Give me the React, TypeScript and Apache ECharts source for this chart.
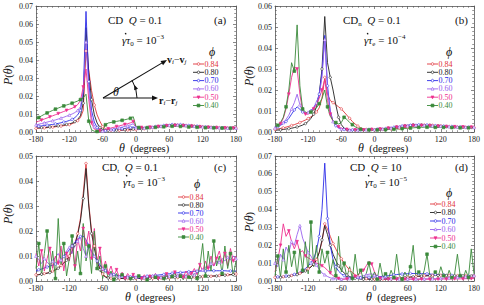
import React, { useEffect, useRef } from "react";
import * as echarts from "echarts";

const THETA = [-180,-175,-170,-165,-160,-155,-150,-145,-140,-135,-130,-125,-120,-115,-110,-105,-100,-95,-90,-85,-80,-75,-70,-65,-60,-55,-50,-45,-40,-35,-30,-25,-20,-15,-10,-5,0,5,10,15,20,25,30,35,40,45,50,55,60,65,70,75,80,85,90,95,100,105,110,115,120,125,130,135,140,145,150,155,160,165,170,175,180];

const PHI = ["0.84", "0.80", "0.70", "0.60", "0.50", "0.40"];
const COLORS = ["#e0343a", "#222222", "#2b2be8", "#9a62ee", "#ee2f8e", "#3a8a3a"];
const SYMBOLS = ["circle", "circle", "circle", "triangle", "triangle", "rect"];
const FILLED = [false, false, false, false, true, true];
const X_TICKS = [-180, 180, 60];
const Y_MAX = [0.07, 0.06, 0.05, 0.07];

// Panel (a): CD, Q = 0.1
const A84 = [.0020,.0021,.0022,.0023,.0024,.0026,.0027,.0029,.0031,.0033,.0035,.0038,.0041,.0046,.0053,.0063,.0080,.0120,.0450,.0340,.0230,.0150,.0095,.0060,.0030,.0018,.0012,.0010,.0009,.0009,.0009,.0010,.0010,.0011,.0012,.0013,.0013,.0015,.0016,.0018,.0020,.0022,.0024,.0026,.0028,.0030,.0032,.0034,.0035,.0036,.0037,.0038,.0038,.0037,.0036,.0035,.0034,.0033,.0031,.0030,.0029,.0028,.0027,.0026,.0025,.0025,.0024,.0024,.0023,.0023,.0022,.0022,.0022];
const A80 = [.0022,.0023,.0024,.0025,.0026,.0028,.0030,.0032,.0034,.0036,.0039,.0042,.0045,.0050,.0058,.0070,.0090,.0160,.0580,.0330,.0180,.0095,.0050,.0025,.0014,.0010,.0009,.0009,.0010,.0010,.0011,.0012,.0013,.0014,.0015,.0016,.0015,.0016,.0018,.0020,.0022,.0024,.0026,.0028,.0030,.0032,.0034,.0036,.0037,.0038,.0039,.0040,.0039,.0038,.0037,.0036,.0035,.0033,.0032,.0030,.0029,.0028,.0027,.0026,.0025,.0025,.0024,.0024,.0023,.0023,.0022,.0022,.0022];
const A70 = [.0030,.0032,.0034,.0036,.0038,.0040,.0042,.0045,.0048,.0051,.0055,.0059,.0064,.0070,.0080,.0095,.0120,.0220,.0670,.0280,.0120,.0055,.0025,.0012,.0008,.0007,.0008,.0010,.0012,.0014,.0016,.0018,.0020,.0022,.0025,.0028,.0020,.0020,.0021,.0022,.0024,.0026,.0028,.0030,.0032,.0034,.0036,.0038,.0040,.0041,.0042,.0042,.0041,.0040,.0038,.0036,.0035,.0033,.0032,.0030,.0029,.0028,.0027,.0026,.0025,.0024,.0024,.0023,.0023,.0022,.0022,.0022,.0022];
const A60 = [.0040,.0043,.0047,.0051,.0055,.0059,.0063,.0067,.0072,.0077,.0082,.0088,.0094,.0100,.0108,.0120,.0140,.0230,.0500,.0230,.0080,.0030,.0012,.0007,.0006,.0008,.0011,.0014,.0017,.0020,.0024,.0027,.0031,.0035,.0040,.0046,.0025,.0022,.0022,.0023,.0024,.0025,.0027,.0029,.0031,.0033,.0035,.0036,.0038,.0039,.0040,.0040,.0039,.0038,.0037,.0035,.0034,.0032,.0031,.0030,.0029,.0028,.0027,.0026,.0025,.0024,.0024,.0023,.0023,.0022,.0022,.0022,.0022];
const A50 = [.0055,.0060,.0066,.0072,.0078,.0084,.0090,.0096,.0102,.0108,.0114,.0120,.0126,.0132,.0140,.0152,.0175,.0250,.0350,.0180,.0050,.0016,.0008,.0007,.0009,.0013,.0018,.0022,.0026,.0030,.0034,.0038,.0042,.0046,.0051,.0058,.0030,.0026,.0025,.0025,.0026,.0027,.0028,.0030,.0031,.0033,.0034,.0035,.0036,.0037,.0037,.0037,.0036,.0035,.0034,.0033,.0032,.0031,.0030,.0029,.0028,.0027,.0026,.0025,.0025,.0024,.0024,.0023,.0023,.0022,.0022,.0022,.0022];
const A40 = [.0070,.0080,.0090,.0098,.0106,.0113,.0120,.0127,.0133,.0139,.0145,.0150,.0155,.0160,.0166,.0172,.0180,.0190,.0210,.0060,.0012,.0004,.0003,.0004,.0010,.0040,.0050,.0053,.0056,.0059,.0062,.0065,.0068,.0072,.0076,.0085,.0030,.0025,.0023,.0023,.0024,.0024,.0025,.0026,.0027,.0028,.0029,.0030,.0031,.0032,.0032,.0032,.0031,.0030,.0029,.0028,.0027,.0026,.0026,.0025,.0025,.0024,.0024,.0023,.0023,.0022,.0022,.0022,.0021,.0021,.0021,.0020,.0020];

// Panel (b): CDn, Q = 0.1
const B84 = [.0012,.0014,.0017,.0020,.0023,.0027,.0031,.0035,.0040,.0045,.0051,.0057,.0064,.0072,.0082,.0095,.0115,.0160,.0260,.0180,.0150,.0140,.0130,.0120,.0110,.0095,.0080,.0065,.0050,.0038,.0028,.0020,.0015,.0012,.0010,.0010,.0010,.0010,.0011,.0012,.0013,.0014,.0015,.0016,.0018,.0019,.0020,.0022,.0024,.0026,.0028,.0030,.0031,.0032,.0033,.0033,.0033,.0032,.0031,.0030,.0029,.0028,.0027,.0026,.0025,.0024,.0024,.0023,.0023,.0022,.0022,.0022,.0022];
const B80 = [.0008,.0009,.0010,.0012,.0014,.0016,.0018,.0021,.0024,.0028,.0033,.0040,.0050,.0065,.0085,.0120,.0180,.0300,.0550,.0330,.0260,.0200,.0130,.0070,.0035,.0018,.0012,.0010,.0009,.0009,.0009,.0010,.0010,.0011,.0011,.0012,.0012,.0013,.0014,.0015,.0017,.0018,.0020,.0022,.0024,.0026,.0028,.0030,.0032,.0033,.0034,.0035,.0035,.0034,.0033,.0033,.0032,.0031,.0030,.0029,.0028,.0027,.0026,.0025,.0025,.0024,.0024,.0023,.0023,.0022,.0022,.0022,.0022];
const B70 = [.0020,.0025,.0032,.0040,.0050,.0065,.0085,.0105,.0120,.0108,.0095,.0090,.0092,.0100,.0115,.0140,.0180,.0280,.0460,.0220,.0100,.0050,.0030,.0020,.0015,.0012,.0010,.0010,.0010,.0010,.0010,.0010,.0011,.0011,.0012,.0012,.0012,.0013,.0014,.0015,.0016,.0018,.0020,.0022,.0024,.0026,.0028,.0030,.0031,.0032,.0033,.0034,.0034,.0034,.0033,.0033,.0032,.0031,.0030,.0030,.0029,.0028,.0027,.0026,.0026,.0025,.0025,.0024,.0024,.0023,.0023,.0023,.0023];
const B60 = [.0020,.0026,.0034,.0045,.0060,.0080,.0110,.0140,.0180,.0130,.0100,.0092,.0094,.0102,.0118,.0140,.0175,.0260,.0440,.0200,.0095,.0050,.0030,.0020,.0015,.0012,.0010,.0010,.0010,.0010,.0010,.0010,.0010,.0011,.0011,.0012,.0012,.0013,.0014,.0015,.0016,.0018,.0020,.0022,.0024,.0026,.0028,.0029,.0030,.0031,.0032,.0033,.0033,.0033,.0032,.0032,.0031,.0030,.0030,.0029,.0028,.0027,.0027,.0026,.0025,.0025,.0024,.0024,.0023,.0023,.0023,.0022,.0022];
const B50 = [.0020,.0028,.0040,.0065,.0110,.0180,.0260,.0310,.0300,.0180,.0100,.0085,.0085,.0095,.0110,.0130,.0160,.0200,.0250,.0150,.0085,.0050,.0035,.0025,.0018,.0014,.0012,.0011,.0011,.0010,.0010,.0010,.0010,.0011,.0011,.0012,.0012,.0013,.0014,.0015,.0016,.0018,.0019,.0021,.0023,.0025,.0026,.0028,.0029,.0030,.0031,.0032,.0032,.0031,.0031,.0030,.0030,.0029,.0028,.0028,.0027,.0027,.0026,.0026,.0025,.0025,.0024,.0024,.0024,.0023,.0023,.0023,.0023];
const B40 = [.0025,.0032,.0045,.0070,.0120,.0200,.0330,.0290,.0510,.0220,.0110,.0095,.0090,.0095,.0105,.0115,.0135,.0160,.0200,.0120,.0075,.0055,.0045,.0038,.0045,.0070,.0060,.0045,.0035,.0025,.0018,.0013,.0011,.0010,.0010,.0010,.0010,.0010,.0010,.0011,.0011,.0012,.0012,.0013,.0014,.0015,.0016,.0017,.0018,.0019,.0020,.0021,.0022,.0022,.0023,.0023,.0023,.0023,.0022,.0022,.0022,.0022,.0021,.0021,.0021,.0021,.0021,.0020,.0020,.0020,.0020,.0020,.0020];

// Panel (c): CDt, Q = 0.1
const C84 = [.0025,.0026,.0028,.0030,.0032,.0035,.0040,.0046,.0053,.0062,.0073,.0085,.0100,.0120,.0150,.0190,.0250,.0350,.0470,.0310,.0200,.0140,.0090,.0050,.0028,.0018,.0013,.0011,.0010,.0010,.0010,.0010,.0010,.0010,.0010,.0010,.0010,.0010,.0010,.0010,.0011,.0011,.0011,.0012,.0012,.0012,.0013,.0013,.0013,.0014,.0014,.0014,.0015,.0015,.0015,.0016,.0016,.0016,.0017,.0017,.0018,.0018,.0019,.0019,.0020,.0021,.0022,.0023,.0024,.0025,.0026,.0027,.0028];
const C80 = [.0024,.0025,.0027,.0029,.0031,.0034,.0038,.0044,.0051,.0060,.0071,.0083,.0098,.0118,.0145,.0185,.0240,.0330,.0450,.0300,.0190,.0130,.0080,.0045,.0025,.0016,.0012,.0010,.0010,.0010,.0010,.0010,.0010,.0010,.0010,.0010,.0010,.0010,.0010,.0010,.0010,.0011,.0011,.0011,.0012,.0012,.0012,.0013,.0013,.0013,.0014,.0014,.0014,.0015,.0015,.0015,.0016,.0016,.0016,.0017,.0017,.0018,.0018,.0019,.0020,.0020,.0021,.0022,.0023,.0024,.0025,.0026,.0027];
const C70 = [.0040,.0045,.0048,.0052,.0056,.0060,.0063,.0068,.0075,.0085,.0098,.0110,.0125,.0140,.0155,.0168,.0178,.0180,.0165,.0140,.0118,.0098,.0080,.0065,.0052,.0042,.0035,.0030,.0026,.0023,.0021,.0019,.0018,.0017,.0017,.0017,.0017,.0017,.0018,.0018,.0019,.0020,.0021,.0022,.0024,.0025,.0026,.0028,.0029,.0031,.0032,.0033,.0034,.0035,.0036,.0037,.0038,.0039,.0039,.0040,.0040,.0040,.0041,.0041,.0041,.0041,.0041,.0041,.0041,.0040,.0040,.0040,.0040];
const C60 = [.0100,.0085,.0070,.0090,.0075,.0065,.0080,.0095,.0110,.0085,.0100,.0120,.0135,.0110,.0145,.0160,.0175,.0130,.0100,.0150,.0120,.0100,.0085,.0060,.0050,.0035,.0030,.0025,.0022,.0020,.0018,.0020,.0015,.0017,.0014,.0015,.0016,.0012,.0018,.0014,.0020,.0015,.0022,.0018,.0020,.0016,.0022,.0018,.0020,.0025,.0018,.0022,.0030,.0025,.0020,.0028,.0030,.0025,.0035,.0040,.0045,.0055,.0050,.0070,.0060,.0080,.0075,.0090,.0080,.0095,.0085,.0100,.0090];
const C50 = [.0110,.0060,.0120,.0040,.0090,.0130,.0050,.0100,.0070,.0140,.0040,.0110,.0080,.0150,.0060,.0170,.0120,.0210,.0140,.0200,.0090,.0210,.0070,.0130,.0040,.0080,.0030,.0060,.0020,.0045,.0015,.0035,.0010,.0030,.0012,.0025,.0008,.0020,.0010,.0025,.0008,.0018,.0012,.0030,.0010,.0020,.0015,.0028,.0010,.0022,.0035,.0012,.0030,.0015,.0040,.0020,.0030,.0050,.0025,.0065,.0040,.0080,.0050,.0100,.0060,.0090,.0120,.0070,.0110,.0060,.0130,.0080,.0100];
const C40 = [.0050,.0150,.0020,.0110,.0200,.0030,.0120,.0010,.0250,.0060,.0150,.0020,.0090,.0180,.0040,.0120,.0030,.0230,.0080,.0140,.0030,.0200,.0050,.0100,.0010,.0060,.0010,.0040,.0005,.0030,.0008,.0025,.0005,.0020,.0010,.0015,.0005,.0020,.0008,.0015,.0005,.0025,.0010,.0015,.0005,.0020,.0010,.0025,.0008,.0018,.0030,.0010,.0020,.0005,.0025,.0015,.0008,.0030,.0010,.0060,.0150,.0020,.0120,.0040,.0160,.0060,.0100,.0030,.0140,.0050,.0110,.0020,.0080];

// Panel (d): CD, Q = 10
const D84 = [.0020,.0021,.0022,.0024,.0026,.0028,.0031,.0034,.0038,.0043,.0050,.0058,.0068,.0080,.0095,.0120,.0160,.0220,.0320,.0290,.0250,.0210,.0180,.0150,.0125,.0100,.0080,.0062,.0047,.0035,.0026,.0020,.0016,.0013,.0012,.0011,.0010,.0010,.0010,.0011,.0011,.0012,.0013,.0014,.0015,.0016,.0017,.0019,.0020,.0022,.0024,.0025,.0027,.0028,.0029,.0030,.0031,.0031,.0032,.0032,.0032,.0032,.0032,.0031,.0031,.0031,.0030,.0030,.0030,.0029,.0029,.0029,.0028];
const D80 = [.0018,.0019,.0020,.0022,.0024,.0026,.0029,.0032,.0036,.0041,.0048,.0056,.0066,.0078,.0094,.0118,.0160,.0230,.0310,.0260,.0200,.0150,.0115,.0085,.0062,.0045,.0033,.0025,.0019,.0015,.0013,.0011,.0010,.0010,.0010,.0010,.0010,.0010,.0010,.0011,.0011,.0012,.0013,.0014,.0015,.0016,.0017,.0019,.0020,.0022,.0023,.0025,.0026,.0027,.0028,.0029,.0030,.0030,.0031,.0031,.0031,.0031,.0031,.0030,.0030,.0030,.0029,.0029,.0029,.0028,.0028,.0028,.0027];
const D70 = [.0022,.0023,.0024,.0026,.0028,.0030,.0033,.0037,.0042,.0049,.0058,.0070,.0085,.0100,.0125,.0170,.0250,.0400,.0660,.0350,.0200,.0120,.0080,.0055,.0040,.0030,.0024,.0020,.0018,.0017,.0017,.0018,.0019,.0020,.0021,.0022,.0023,.0024,.0025,.0026,.0028,.0030,.0032,.0034,.0036,.0038,.0039,.0040,.0041,.0042,.0042,.0042,.0042,.0041,.0041,.0040,.0039,.0038,.0037,.0036,.0035,.0034,.0033,.0032,.0031,.0030,.0029,.0028,.0027,.0026,.0025,.0025,.0024];
const D60 = [.0100,.0080,.0150,.0120,.0190,.0160,.0220,.0200,.0260,.0310,.0240,.0200,.0160,.0140,.0110,.0090,.0065,.0045,.0035,.0025,.0018,.0014,.0012,.0010,.0010,.0011,.0012,.0014,.0016,.0019,.0022,.0026,.0030,.0034,.0038,.0040,.0032,.0026,.0022,.0019,.0017,.0015,.0014,.0013,.0012,.0012,.0012,.0011,.0011,.0011,.0011,.0011,.0011,.0011,.0012,.0012,.0012,.0013,.0013,.0014,.0015,.0016,.0017,.0018,.0019,.0020,.0021,.0022,.0023,.0024,.0025,.0028,.0030];
const D50 = [.0050,.0120,.0200,.0320,.0250,.0280,.0220,.0180,.0220,.0160,.0170,.0140,.0130,.0120,.0110,.0100,.0095,.0085,.0075,.0060,.0045,.0030,.0020,.0014,.0011,.0010,.0012,.0015,.0020,.0026,.0034,.0045,.0060,.0085,.0110,.0095,.0050,.0025,.0015,.0012,.0010,.0010,.0010,.0010,.0010,.0010,.0010,.0010,.0010,.0010,.0010,.0010,.0010,.0010,.0010,.0010,.0010,.0010,.0010,.0010,.0010,.0011,.0011,.0011,.0011,.0012,.0012,.0012,.0012,.0013,.0013,.0013,.0014];
const D40 = [.0030,.0140,.0020,.0180,.0050,.0200,.0080,.0160,.0030,.0180,.0060,.0220,.0040,.0330,.0080,.0200,.0050,.0180,.0100,.0160,.0040,.0120,.0030,.0250,.0050,.0100,.0020,.0080,.0015,.0150,.0030,.0060,.0010,.0040,.0100,.0020,.0050,.0010,.0100,.0020,.0040,.0010,.0060,.0020,.0150,.0030,.0010,.0050,.0020,.0080,.0200,.0020,.0050,.0010,.0060,.0150,.0030,.0010,.0050,.0020,.0080,.0030,.0010,.0060,.0020,.0040,.0150,.0030,.0010,.0060,.0020,.0180,.0040];

const PANEL_DATA = [
  [A84, A80, A70, A60, A50, A40],
  [B84, B80, B70, B60, B50, B40],
  [C84, C80, C70, C60, C50, C40],
  [D84, D80, D70, D60, D50, D40],
];

const SERIF = "'Liberation Serif', 'DejaVu Serif', serif";

const GRIDS = [
  { left: 36, top: 6, width: 200, height: 126 },
  { left: 275, top: 6, width: 199, height: 126 },
  { left: 36, top: 156, width: 200, height: 125 },
  { left: 275, top: 156, width: 199, height: 125 },
];

// legend layout: line start x, first row centre y, row step, phi symbol position
const LEGEND_POS = [
  { x: 193, y: 64, step: 8.3, phiX: 212, phiY: 52 },
  { x: 427, y: 64, step: 8.3, phiX: 449, phiY: 52 },
  { x: 178, y: 197, step: 8.0, phiX: 197, phiY: 184 },
  { x: 430, y: 204, step: 8.5, phiX: 449, phiY: 193 },
];

const RICH = {
  n: { fontFamily: SERIF, fontSize: 11, lineHeight: 14, fill: "#111" },
  i: { fontFamily: SERIF, fontSize: 11, lineHeight: 14, fontStyle: "italic", fill: "#111" },
  sub: { fontFamily: SERIF, fontSize: 7, lineHeight: 9, verticalAlign: "bottom", fill: "#111" },
  sup: { fontFamily: SERIF, fontSize: 7, lineHeight: 9, verticalAlign: "top", fill: "#111" },
  b: { fontFamily: SERIF, fontSize: 10, lineHeight: 13, fontWeight: "bold", fill: "#111" },
  bs: { fontFamily: SERIF, fontSize: 7, lineHeight: 8, verticalAlign: "bottom", fontStyle: "italic", fill: "#111" },
  m: { fontFamily: SERIF, fontSize: 10, lineHeight: 13, fill: "#111" },
  ti: { fontFamily: SERIF, fontSize: 12, lineHeight: 11, fontStyle: "italic", fill: "#111" },
  tn: { fontFamily: SERIF, fontSize: 10.5, lineHeight: 11, fill: "#111" },
};

function txt(x: number, y: number, text: string, extra: any = {}) {
  return {
    type: "text",
    x,
    y,
    style: { text, rich: RICH, verticalAlign: "middle", fontFamily: SERIF, fontSize: 11, fill: "#111", ...extra },
  };
}

// "γ̇τ" label: gamma with a dot above, drawn as text plus a small dot
function gammaLabel(x: number, y: number, text: string) {
  return [
    txt(x, y, text),
    { type: "circle", shape: { cx: x + 3.6, cy: y - 6.3, r: 0.75 }, style: { fill: "#111" } },
  ];
}

function legendMarker(j: number, cx: number, cy: number) {
  const style = { fill: FILLED[j] ? COLORS[j] : "#fff", stroke: COLORS[j], lineWidth: 0.7 };
  if (SYMBOLS[j] === "circle") return { type: "circle", shape: { cx, cy, r: 1.3 }, style };
  if (SYMBOLS[j] === "rect") return { type: "rect", shape: { x: cx - 1.4, y: cy - 1.4, width: 2.8, height: 2.8 }, style };
  const d = j === 4 ? 1 : -1;
  return { type: "polygon", shape: { points: [[cx, cy + 1.6 * d], [cx - 1.5, cy - 1.2 * d], [cx + 1.5, cy - 1.2 * d]] }, style };
}

export default function App() {
  const ref = useRef<HTMLDivElement>(null);
  useEffect(() => {
    document.body.style.margin = "0";
    if (!ref.current) return;
    const chart = echarts.init(ref.current, undefined, { renderer: "svg" });

    const xAxis: any[] = [];
    const yAxis: any[] = [];
    const frameLine = { show: true, lineStyle: { color: "#555", width: 0.8 } };
    GRIDS.forEach((_, p) => {
      ["bottom", "top"].forEach((pos) => {
        xAxis.push({
          type: "value",
          gridIndex: p,
          position: pos,
          min: X_TICKS[0],
          max: X_TICKS[1],
          interval: X_TICKS[2],
          axisLine: { ...frameLine, onZero: false },
          axisTick: { show: true, inside: true, length: 3, lineStyle: { color: "#555", width: 0.7 } },
          minorTick: { show: true, splitNumber: 6, length: 1.8, lineStyle: { color: "#555", width: 0.6 } },
          splitLine: { show: false },
          axisLabel: {
            show: pos === "bottom",
            fontFamily: SERIF,
            fontSize: 8,
            color: "#222",
            margin: 3,
            formatter: (v: number) => String(v),
          },
        });
      });
      ["left", "right"].forEach((pos) => {
        yAxis.push({
          type: "value",
          gridIndex: p,
          position: pos,
          min: 0,
          max: Y_MAX[p],
          interval: 0.01,
          axisLine: { ...frameLine, onZero: false },
          axisTick: { show: true, inside: true, length: 3, lineStyle: { color: "#555", width: 0.7 } },
          minorTick: { show: true, splitNumber: 5, length: 1.8, lineStyle: { color: "#555", width: 0.6 } },
          splitLine: { show: false },
          axisLabel: {
            show: pos === "left",
            fontFamily: SERIF,
            fontSize: 8,
            color: "#222",
            margin: 3,
            formatter: (v: number) => v.toFixed(2),
          },
        });
      });
    });

    const series: any[] = [];
    // lines
    PANEL_DATA.forEach((sets, p) => {
      sets.forEach((vals, j) => {
        series.push({
          type: "line",
          name: PHI[j],
          xAxisIndex: p * 2,
          yAxisIndex: p * 2,
          data: THETA.map((t, i) => [t, vals[i]]),
          color: COLORS[j],
          lineStyle: { width: 0.9, color: COLORS[j] },
          symbol: "none",
          showSymbol: false,
          emphasis: { disabled: true },
          silent: true,
          z: 2,
        });
      });
    });
    // sparse markers on the same data points
    PANEL_DATA.forEach((sets, p) => {
      sets.forEach((vals, j) => {
        const pts: number[][] = [];
        THETA.forEach((t, i) => {
          if ((i + j) % 3 === 0) pts.push([t, vals[i]]);
        });
        series.push({
          type: "scatter",
          name: "m" + PHI[j],
          xAxisIndex: p * 2,
          yAxisIndex: p * 2,
          data: pts,
          symbol: SYMBOLS[j],
          symbolRotate: j === 4 ? 180 : 0,
          symbolSize: j >= 3 ? 2.8 : 2.5,
          itemStyle: {
            color: FILLED[j] ? COLORS[j] : "#ffffff",
            borderColor: COLORS[j],
            borderWidth: 0.6,
            opacity: 1,
          },
          emphasis: { disabled: true },
          silent: true,
          z: 3,
        });
      });
    });

    const graphic: any[] = [
      // panel titles
      txt(108, 20, "{n|CD}  {i|Q}{n| = 0.1}"),
      txt(214, 20, "{n|(a)}"),
      ...gammaLabel(122, 40, "{i|γτ}{sub|0}{n| = 10}{sup|−3}"),
      txt(343, 20, "{n|CD}{sub|n}  {i|Q}{n| = 0.1}"),
      txt(455, 20, "{n|(b)}"),
      ...gammaLabel(364, 40, "{i|γτ}{sub|e}{n| = 10}{sup|−4}"),
      txt(102, 167, "{n|CD}{sub|t}  {i|Q}{n| = 0.1}"),
      txt(214, 167, "{n|(c)}"),
      ...gammaLabel(123, 182, "{i|γτ}{sub|0}{n| = 10}{sup|−3}"),
      txt(350, 167, "{n|CD}  {i|Q}{n| = 10}"),
      txt(455, 167, "{n|(d)}"),
      ...gammaLabel(365, 182, "{i|γτ}{sub|0}{n| = 10}{sup|−5}"),
      // axis names
      txt(119, 148, "{ti|θ}{tn|  (degrees)}"),
      txt(358, 148, "{ti|θ}{tn|  (degrees)}"),
      txt(125, 297, "{ti|θ}{tn|  (degrees)}"),
      txt(366, 297, "{ti|θ}{tn|  (degrees)}"),
    ];
    [[8, 75], [249, 76], [8, 214], [249, 222]].forEach(([x, y]) => {
      graphic.push({
        type: "text",
        x,
        y,
        rotation: Math.PI / 2,
        style: {
          text: "{ti|P}{tn|(}{ti|θ}{tn|)}",
          rich: RICH,
          align: "center",
          verticalAlign: "middle",
        },
      });
    });
    // legends
    LEGEND_POS.forEach((l) => {
      graphic.push(txt(l.phiX, l.phiY, "{ti|ϕ}", { align: "center" }));
      PHI.forEach((name, j) => {
        const cy = l.y + j * l.step;
        graphic.push(
          { type: "line", shape: { x1: l.x, y1: cy, x2: l.x + 11, y2: cy }, style: { stroke: COLORS[j], lineWidth: 0.9 } },
          legendMarker(j, l.x + 5.5, cy),
          {
            type: "text",
            x: l.x + 11.5,
            y: cy,
            style: {
              text: name,
              fill: COLORS[j],
              fontFamily: SERIF,
              fontSize: 8,
              lineHeight: 7.5,
              verticalAlign: "middle",
            },
          }
        );
      });
    });
    // arrow diagram in panel (a)
    const ink = { stroke: "#111", lineWidth: 1.1 };
    graphic.push(
      { type: "line", shape: { x1: 103, y1: 98, x2: 163, y2: 62.4 }, style: ink },
      { type: "polygon", shape: { points: [[167, 60], [163.1, 65.2], [160.5, 61.0]] }, style: { fill: "#111" } },
      { type: "line", shape: { x1: 103, y1: 98, x2: 153, y2: 98 }, style: ink },
      { type: "polygon", shape: { points: [[158, 98], [152, 95.5], [152, 100.5]] }, style: { fill: "#111" } },
      { type: "arc", shape: { cx: 103, cy: 98, r: 34, startAngle: -0.55, endAngle: 0, clockwise: true }, style: { stroke: "#111", lineWidth: 1, fill: "none" } },
      { type: "polygon", shape: { points: [[134.3, 84.8], [138.0, 88.8], [134.2, 90.2]] }, style: { fill: "#111" } },
      txt(113, 92, "{ti|θ}"),
      txt(167, 59, "{b|v}{bs|i}{m|−}{b|v}{bs|j}"),
      txt(159, 100, "{b|r}{bs|i}{m|−}{b|r}{bs|j}")
    );

    chart.setOption({
      animation: false,
      backgroundColor: "#fff",
      grid: GRIDS,
      xAxis,
      yAxis,
      series,
      graphic,
    });
    return () => chart.dispose();
  }, []);
  return <div ref={ref} style={{ width: 484, height: 305 }} />;
}
